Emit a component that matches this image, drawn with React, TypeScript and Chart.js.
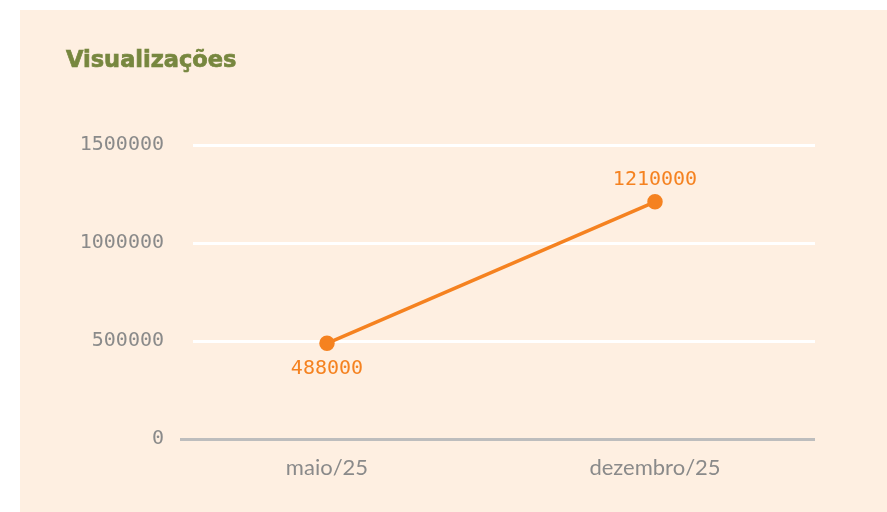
import React, { useEffect, useRef } from "react";
import { Chart, registerables } from "chart.js";

Chart.register(...registerables);

const categories: string[] = ["maio/25", "dezembro/25"];
const views: number[] = [488000, 1210000];
const yTicks: number[] = [0, 500000, 1000000, 1500000];
const title = "Visualizações";

const BG = "#FEEFE1";
const ORANGE = "#F58220";
const GRAY_TEXT = "#8A8A8A";
const OLIVE = "#77873F";
const NUM_FONT = "'DejaVu Sans Mono', monospace";
const LABEL_FONT = "Lato, 'Open Sans', sans-serif";

const valueLabels = {
  id: "valueLabels",
  afterDatasetsDraw(chart: any) {
    const { ctx } = chart;
    const meta = chart.getDatasetMeta(0);
    const data = chart.data.datasets[0].data as any[];
    ctx.save();
    ctx.fillStyle = ORANGE;
    ctx.font = `20px ${NUM_FONT}`;
    ctx.textAlign = "center";
    ctx.textBaseline = "middle";
    meta.data.forEach((pt: any, i: number) => {
      const v = data[i].y;
      const prev = i > 0 ? data[i - 1].y : Infinity;
      const above = v >= prev;
      ctx.fillText(String(v), pt.x, pt.y + (above ? -22 : 25));
    });
    ctx.restore();
  },
};

export default function App() {
  const ref = useRef<HTMLCanvasElement | null>(null);
  useEffect(() => {
    if (!ref.current) return;
    const chart = new Chart(ref.current, {
      type: "line",
      data: {
        datasets: [
          {
            data: views.map((y, i) => ({ x: i, y })),
            borderColor: ORANGE,
            backgroundColor: ORANGE,
            borderWidth: 3.5,
            pointRadius: 6,
            pointHoverRadius: 6,
            pointBackgroundColor: ORANGE,
            pointBorderColor: ORANGE,
            tension: 0,
          },
        ],
      },
      options: {
        animation: false,
        responsive: false,
        layout: { padding: { top: 135, right: 72, bottom: 0, left: 0 } },
        plugins: {
          legend: { display: false },
          tooltip: { enabled: false },
          title: { display: false },
        },
        scales: {
          x: {
            type: "linear",
            min: -0.4085,
            max: 1.4878,
            afterBuildTicks: (scale: any) => {
              scale.ticks = categories.map((_, i) => ({ value: i }));
            },
            afterFit: (scale: any) => {
              scale.height = 73;
            },
            grid: { display: false },
            border: { display: false },
            ticks: {
              padding: 8,
              color: GRAY_TEXT,
              font: { family: LABEL_FONT, size: 22 },
              callback: (v: any) => categories[v] ?? "",
            },
          },
          y: {
            min: 0,
            max: 1500000,
            afterBuildTicks: (scale: any) => {
              scale.ticks = yTicks.map((value) => ({ value }));
            },
            afterFit: (scale: any) => {
              scale.width = 173;
            },
            border: { display: false },
            grid: {
              color: (c: any) => (c.tick && c.tick.value === 0 ? "#BDBDBD" : "#FFFFFF"),
              tickColor: (c: any) => (c.tick && c.tick.value === 0 ? "#BDBDBD" : "rgba(0,0,0,0)"),
              lineWidth: 3,
              tickWidth: 3,
              tickLength: 13,
              drawTicks: true,
            },
            ticks: {
              padding: 16,
              color: GRAY_TEXT,
              font: { family: NUM_FONT, size: 20 },
              callback: (v: any) => String(v),
            },
          },
        },
      },
      plugins: [valueLabels],
    } as any);
    return () => chart.destroy();
  }, []);

  return (
    <div
      style={{
        position: "absolute",
        left: 20,
        top: 10,
        width: 867,
        height: 502,
        background: BG,
      }}
    >
      <div
        style={{
          position: "absolute",
          left: 46,
          top: 33,
          fontFamily: "'DejaVu Sans', sans-serif",
          fontWeight: 700,
          fontSize: 22.5,
          lineHeight: "32px",
          color: OLIVE,
          WebkitTextStroke: `0.7px ${OLIVE}`,
        }}
      >
        {title}
      </div>
      <canvas ref={ref} width={867} height={502} style={{ display: "block" }} />
    </div>
  );
}
